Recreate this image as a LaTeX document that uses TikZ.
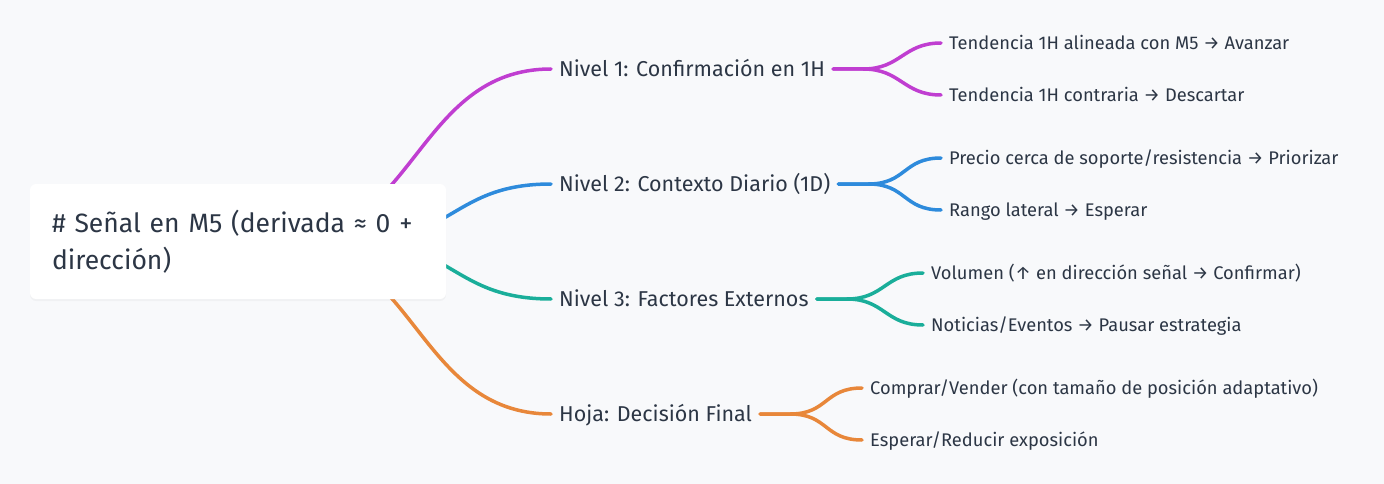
\documentclass[tikz,border=0pt]{standalone}
\usepackage{fontspec}
\setmainfont{Fira Sans}
\usetikzlibrary{backgrounds}
\usetikzlibrary{shadows}
\usetikzlibrary{positioning}

\definecolor{bgpage}{RGB}{248,249,251}
\definecolor{ink}{RGB}{44,54,69}
\definecolor{lvlA}{RGB}{192,62,209}
\definecolor{lvlB}{RGB}{46,139,220}
\definecolor{lvlC}{RGB}{26,174,154}
\definecolor{lvlD}{RGB}{232,135,58}

\tikzset{
	rootbox/.style={rectangle, rounded corners=6pt, fill=white, text=ink,
		minimum width=416pt, minimum height=115pt, inner xsep=22pt,
		align=left, text width=372pt,
		font=\fontsize{26.5}{37}\selectfont,
		drop shadow={opacity=0.06, shadow xshift=0pt, shadow yshift=-2pt}},
	branch/.style={anchor=west, inner xsep=8pt, inner ysep=0pt, text=ink,
		text height=14.8pt, text depth=0pt, font=\fontsize{21.5}{25}\selectfont},
	leaf/.style={anchor=west, inner xsep=8pt, inner ysep=0pt, text=ink,
		text height=12.6pt, text depth=0pt, font=\fontsize{18.3}{22}\selectfont},
}

\begin{document}
\begin{tikzpicture}[x=1pt, y=-1pt]
	\useasboundingbox (0,0) rectangle (1384,484);
	\begin{scope}[on background layer]
		\fill[bgpage] (0,0) rectangle (1384,484);
	\end{scope}

	\node[rootbox] (root) at (238,241.5) {\# Señal en M5 (derivada ≈ 0 +\\dirección)};

	\begin{scope}[every node/.style={branch}]
		\node (n1) at (551,69)  {Nivel 1: Confirmación en 1H};
		\node (n2) at (551,184) {Nivel 2: Contexto Diario (1D)};
		\node (n3) at (551,299) {Nivel 3: Factores Externos};
		\node (n4) at (551,414) {Hoja: Decisión Final};
	\end{scope}

	\begin{scope}[every node/.style={leaf}]
		\node (a1) at (941,43)  {Tendencia 1H alineada con M5 → Avanzar};
		\node (a2) at (941,95)  {Tendencia 1H contraria → Descartar};
		\node (b1) at (941,158) {Precio cerca de soporte/resistencia → Priorizar};
		\node (b2) at (941,210) {Rango lateral → Esperar};
		\node (c1) at (923,273) {Volumen (↑ en dirección señal → Confirmar)};
		\node (c2) at (923,325) {Noticias/Eventos → Pausar estrategia};
		\node (d1) at (862,388) {Comprar/Vender (con tamaño de posición adaptativo)};
		\node (d2) at (862,440) {Esperar/Reducir exposición};
	\end{scope}

	\begin{scope}[on background layer, every path/.style={line width=3.5pt, line cap=round}]
		% root to levels
		\draw[lvlA] ([xshift=-166pt]root.east) .. controls +(135.5,0) and +(-135.5,0) .. (n1.west);
		\draw[lvlB] ([xshift=-91pt]root.east) .. controls +(98,0) and +(-98,0) .. (n2.west);
		\draw[lvlC] ([xshift=-91pt]root.east) .. controls +(98,0) and +(-98,0) .. (n3.west);
		\draw[lvlD] ([xshift=-166pt]root.east) .. controls +(135.5,0) and +(-135.5,0) .. (n4.west);
		% levels to leaves
		\draw[lvlA] (n1.east) -- ++(30,0) .. controls +(38,0) and +(-38,0) .. (a1.west);
		\draw[lvlA] (n1.east) -- ++(30,0) .. controls +(38,0) and +(-38,0) .. (a2.west);
		\draw[lvlB] (n2.east) -- ++(30,0) .. controls +(38,0) and +(-38,0) .. (b1.west);
		\draw[lvlB] (n2.east) -- ++(30,0) .. controls +(38,0) and +(-38,0) .. (b2.west);
		\draw[lvlC] (n3.east) -- ++(30,0) .. controls +(38,0) and +(-38,0) .. (c1.west);
		\draw[lvlC] (n3.east) -- ++(30,0) .. controls +(38,0) and +(-38,0) .. (c2.west);
		\draw[lvlD] (n4.east) -- ++(30,0) .. controls +(38,0) and +(-38,0) .. (d1.west);
		\draw[lvlD] (n4.east) -- ++(30,0) .. controls +(38,0) and +(-38,0) .. (d2.west);
	\end{scope}
\end{tikzpicture}
\end{document}
